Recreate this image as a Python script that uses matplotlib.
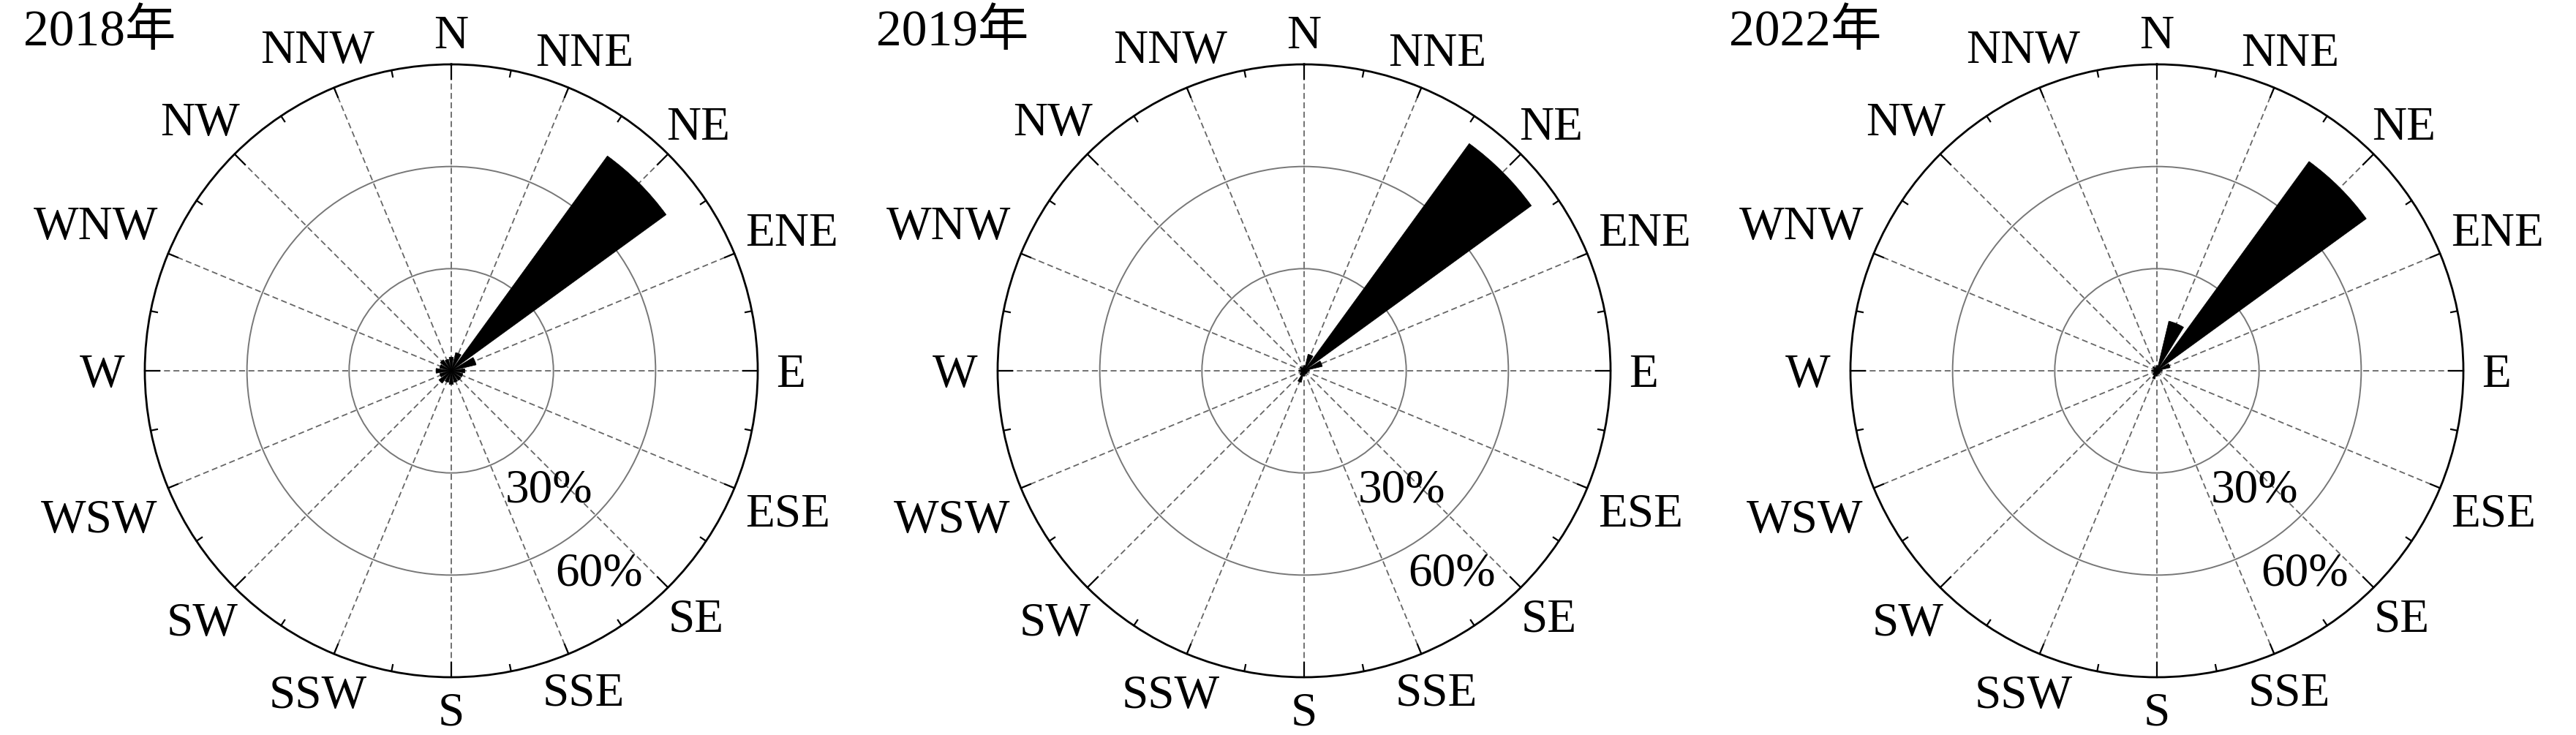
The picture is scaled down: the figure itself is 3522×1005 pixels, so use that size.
import numpy as np
import matplotlib
matplotlib.use('Agg')
import matplotlib.pyplot as plt
from matplotlib.textpath import TextPath
from matplotlib.font_manager import FontProperties

# wind direction frequency (%) per 16 compass sectors
directions = ['N', 'NNE', 'NE', 'ENE', 'E', 'ESE', 'SE', 'SSE',
              'S', 'SSW', 'SW', 'WSW', 'W', 'WNW', 'NW', 'NNW']
years = ['2018年', '2019年', '2022年']
freq_2018 = [4.0, 5.5, 78.0, 7.5, 4.0, 3.5, 3.5, 3.5,
             4.0, 3.5, 4.5, 3.5, 4.5, 3.5, 4.0, 3.5]
freq_2019 = [1.5, 5.0, 82.5, 5.5, 1.5, 1.0, 1.0, 1.0,
             1.5, 3.5, 1.5, 1.0, 1.5, 1.0, 1.5, 1.0]
freq_2022 = [1.5, 15.0, 76.0, 4.0, 1.5, 1.0, 1.0, 1.0,
             1.5, 2.5, 1.5, 1.0, 1.5, 1.0, 1.5, 1.0]
rings = [30, 60]
ring_labels = ['30%', '60%']
rmax = 90

W, H, dpi = 3522, 1005, 100
fig = plt.figure(figsize=(W / dpi, H / dpi), dpi=dpi)

serif = 'Liberation Serif'
fs = 47
centers_x = [617, 1783, 2949]
cy = 507
R = 419                      # circle radius in pixels
pt = 72 / dpi
cap = 0.662 * fs

theta = np.deg2rad(np.arange(len(directions)) * 22.5)
fp = FontProperties(family=serif)

for cx, year, freq in zip(centers_x, years, [freq_2018, freq_2019, freq_2022]):
    ax = fig.add_axes([(cx - R) / W, (H - cy - R) / H, 2 * R / W, 2 * R / H],
                      projection='polar')
    ax.set_theta_zero_location('N')
    ax.set_theta_direction(-1)
    ax.set_axisbelow(True)
    ax.bar(theta, freq, width=np.deg2rad(18), color='k', edgecolor='k',
           linewidth=0.5, zorder=3)
    ax.set_ylim(0, rmax)
    ax.set_xticks(theta)
    ax.set_xticklabels([])
    ax.set_yticks(rings)
    ax.set_yticklabels([])
    ax.xaxis.grid(True, color='#666666', lw=1.3, ls=(0, (4.5, 2.6)))
    ax.yaxis.grid(True, color='#777777', lw=1.4, ls='-')
    ax.tick_params(length=0)
    ax.spines['polar'].set_linewidth(2.0)

    # inward ticks on the rim
    for i in range(32):
        a = np.deg2rad(i * 11.25)
        L = 20 if i % 4 == 0 else (14 if i % 2 == 0 else 9)
        ax.plot([a, a], [rmax - L / R * rmax, rmax], color='k', lw=1.6,
                clip_on=False, zorder=4)

    # compass labels
    for name, a in zip(directions, theta):
        w = TextPath((0, 0), name, size=fs, prop=fp).get_extents().width
        s, c = np.sin(a), np.cos(a)
        pad = (22 + 6 * abs(s)) * pt
        off = pad + np.hypot(s * w / 2, c * cap / 2)
        ax.annotate(name, xy=(a, rmax), xytext=(off * s, off * c - cap / 2),
                    textcoords='offset points', ha='center', va='baseline',
                    fontsize=fs, family=serif, annotation_clip=False)

    # ring labels
    for lab, ang, r in zip(ring_labels, [139.8, 143.3], [44.4, 72.8]):
        ax.annotate(lab, xy=(np.deg2rad(ang), r), xytext=(0, -cap / 2),
                    textcoords='offset points', ha='center', va='baseline',
                    fontsize=fs, family=serif, zorder=5)

    fig.text((cx - 585) / W, 1 - 62 / H, year, fontsize=50,
             family=[serif, 'Noto Sans CJK SC'], ha='left', va='baseline')

fig.savefig('out.png', dpi=dpi, facecolor='white')
